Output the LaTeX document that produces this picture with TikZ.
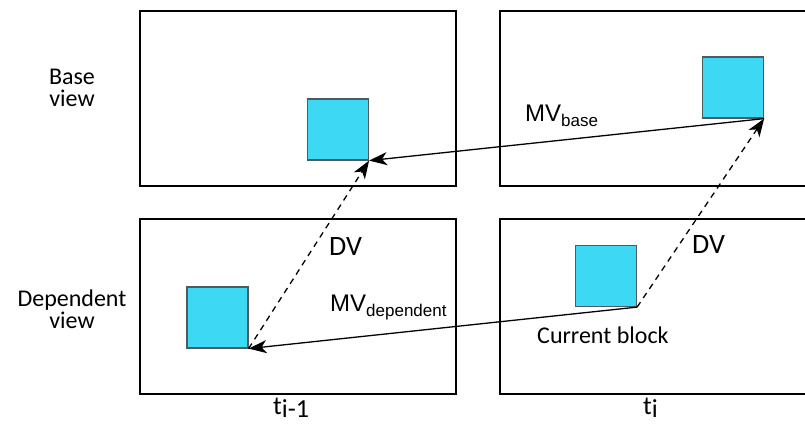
\documentclass[tikz,border=0pt]{standalone}
\usepackage{fontspec}
\setmainfont{Carlito}
\newfontfamily\mvfont{Liberation Sans}
\usetikzlibrary{arrows.meta}
\definecolor{blockcyan}{HTML}{3DD8F3}
\definecolor{blockedge}{HTML}{4D5A60}
\tikzset{>={Stealth[length=18pt,width=13pt,inset=5pt]}}
\tikzset{viewbox/.style={draw,line width=1.8pt,minimum width=316pt,minimum height=175pt,inner sep=0pt}}
\tikzset{blk/.style={draw=blockedge,fill=blockcyan,line width=1.2pt,minimum size=61pt,inner sep=0pt}}
\tikzset{mv/.style={->,line width=1.3pt}}
\tikzset{dv/.style={->,line width=1.3pt,dash pattern=on 6pt off 5pt}}
\tikzset{lbl/.style={anchor=base west,inner sep=0pt,font=\fontsize{24}{24}\selectfont}}

\begin{document}
\begin{tikzpicture}[x=1pt,y=-1pt]
  \useasboundingbox (0,0) rectangle (805,423);
  \clip (0,0) rectangle (805,423);
  % the four views
  \node[viewbox] (baseprev) at (298,98.5) {};
  \node[viewbox] (basecur) at (658,98.5) {};
  \node[viewbox] (depprev) at (298,306.5) {};
  \node[viewbox] (depcur) at (658,306.5) {};
  % blocks
  \node[blk] (refbase) at (338,129.5) {};
  \node[blk] (colbase) at (733,87.5) {};
  \node[blk] (refdep) at (217.5,317.5) {};
  \node[blk] (cur) at (606,276) {};
  \draw[mv] (colbase.south east) -- (refbase.south east);
  \draw[mv] (cur.south east) -- (refdep.south east);
  \draw[dv] (refdep.south east) -- (refbase.south east);
  \draw[dv] (cur.south east) -- (colbase.south east);
  % labels
  \node[align=center,font=\fontsize{24}{22}\selectfont] (baselbl) at (72,88) {Base\\view};
  \node[align=center,font=\fontsize{24}{22}\selectfont] (deplbl) at (72,309) {Dependent\\view};
  \node[lbl,font=\mvfont\fontsize{24}{24}\selectfont] (mvbase) at (525,121) {MV\raisebox{-5pt}{\fontsize{17}{17}\selectfont base}};
  \node[lbl,font=\mvfont\fontsize{24}{24}\selectfont] (mvdep) at (330,311) {MV\raisebox{-5pt}{\fontsize{17}{17}\selectfont dependent}};
  \node[lbl,font=\fontsize{28}{28}\selectfont] (dvleft) at (329,255) {DV};
  \node[lbl,font=\fontsize{28}{28}\selectfont] (dvright) at (692,253) {DV};
  \node[lbl] (curlbl) at (537,343) {Current block};
  \node[lbl,font=\fontsize{26}{26}\selectfont] (tprev) at (273,414) {t\raisebox{-3pt}{i-1}};
  \node[lbl,font=\fontsize{26}{26}\selectfont] (tcur) at (643,414) {t\raisebox{-3pt}{i}};
\end{tikzpicture}
\end{document}
